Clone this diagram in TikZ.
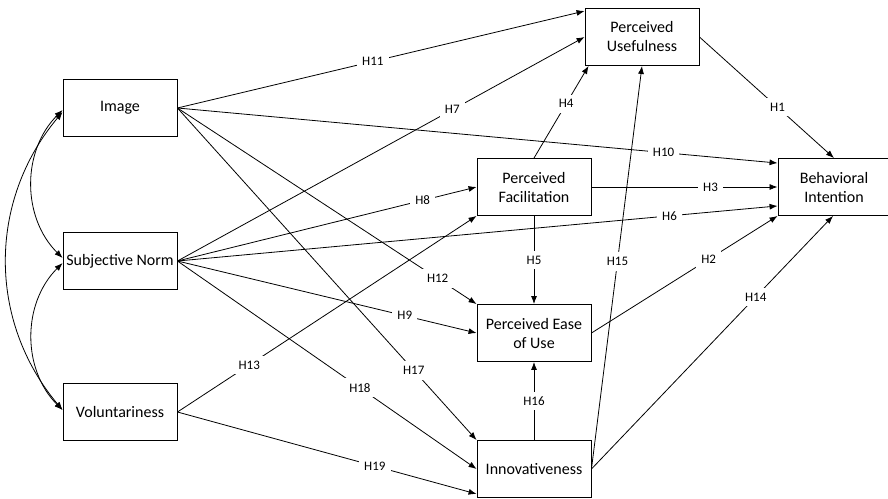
\documentclass[tikz,border=0pt]{standalone}
\usepackage{fontspec}
\setmainfont{Carlito}
\usepackage{tikz}
\usetikzlibrary{arrows.meta}

\tikzset{
  box/.style={draw, line width=0.9pt, minimum width=114pt, minimum height=57pt,
    align=center, inner sep=2pt, font=\fontsize{16}{19}\selectfont},
  hyp/.style={fill=white, inner sep=5pt, font=\fontsize{13}{15}\selectfont}
}

\begin{document}
\begin{tikzpicture}[->,>={Latex[length=8pt,width=6pt]},x=1pt,y=1pt,line width=0.8pt]
			\useasboundingbox (0,0) rectangle (888,-498);
			% constructs
			\node[box] (img) at (120,-108) {Image};
			\node[box] (sn)  at (120,-261) {Subjective Norm};
			\node[box] (vol) at (120,-412) {Voluntariness};
			\node[box] (pu)  at (642,-37)  {Perceived\\Usefulness};
			\node[box] (pf)  at (534,-187) {Perceived\\Facilitation};
			\node[box, minimum width=112pt] (bi) at (834,-187) {Behavioral\\Intention};
			\node[box] (peu) at (534,-333) {Perceived Ease\\of Use};
			\node[box] (inn) at (534,-469) {Innovativeness};
			% correlations
			\draw[<->] ([yshift=-2pt]img.west) to[out=225, in=135] ([yshift=3pt]sn.west);
			\draw[<->] ([yshift=-4pt]img.west) to[out=230, in=130] ([yshift=2pt]vol.west);
			\draw[<->] ([yshift=-2pt]sn.west)  to[out=225, in=135] ([yshift=2pt]vol.west);
			% hypotheses
			\draw (img.east) -- node[hyp, pos=0.48] {H11} ([yshift=-3pt]pu.north west);
			\draw (sn.east)  -- node[hyp, pos=0.675] {H7} (pu.west);
			\draw (img.east) -- node[hyp, pos=0.81] {H10} ([yshift=-5pt]bi.north west);
			\draw (img.east) -- node[hyp, pos=0.87] {H12} (peu.north west);
			\draw (img.east) -- node[hyp, pos=0.79] {H17} (inn.north west);
			\draw (sn.east)  -- node[hyp, pos=0.82] {H8} (pf.west);
			\draw (sn.east)  -- node[hyp, pos=0.82] {H6} ([yshift=10pt]bi.south west);
			\draw (sn.east)  -- node[hyp, pos=0.76] {H9} (peu.west);
			\draw (sn.east)  -- node[hyp, pos=0.61] {H18} (inn.west);
			\draw (vol.east) -- node[hyp, pos=0.24] {H13} (pf.south west);
			\draw (vol.east) -- node[hyp, pos=0.66] {H19} ([yshift=4pt]inn.south west);
			\draw (pf.north) -- node[hyp, pos=0.59] {H4} ([xshift=4pt]pu.south west);
			\draw (pf.east)  -- node[hyp, pos=0.64] {H3} (bi.west);
			\draw (pf.south) -- node[hyp] {H5} (peu.north);
			\draw (pu.east)  -- node[hyp, pos=0.58] {H1} (bi.north);
			\draw (peu.east) -- node[hyp, pos=0.63] {H2} (bi.south west);
			\draw (inn.east) -- node[hyp, pos=0.515] {H15} (pu.south);
			\draw (inn.east) -- node[hyp, pos=0.68] {H14} ([xshift=-1pt]bi.south);
			\draw (inn.north) -- node[hyp] {H16} (peu.south);
		\end{tikzpicture}
\end{document}
